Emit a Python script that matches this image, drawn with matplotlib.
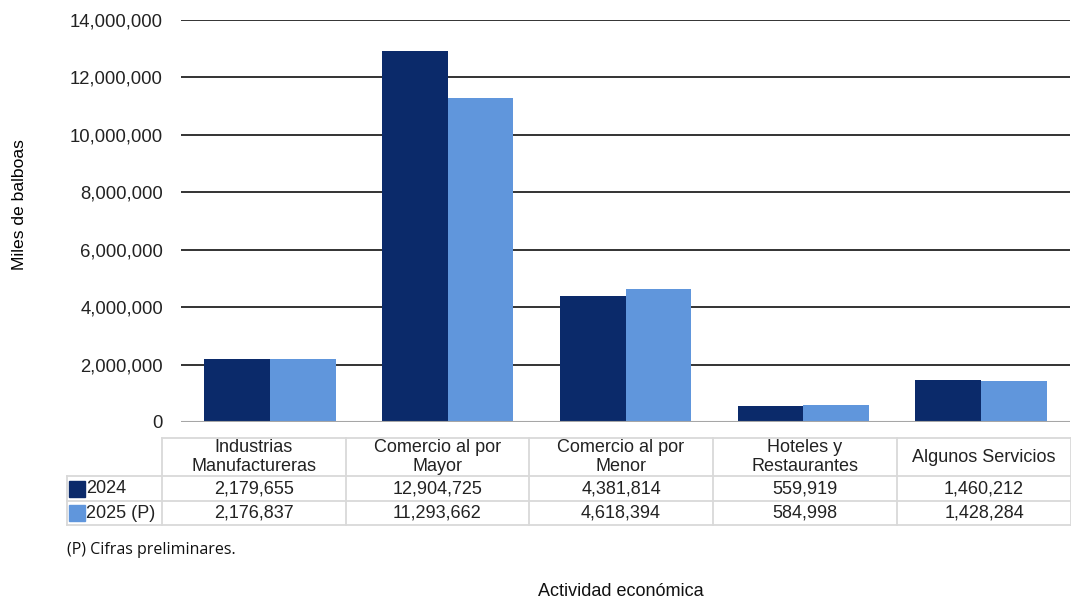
import matplotlib
matplotlib.use("Agg")
import matplotlib.pyplot as plt
from matplotlib.patches import Rectangle
from matplotlib.lines import Line2D
import numpy as np

plt.rcParams['font.family'] = ['Liberation Sans', 'DejaVu Sans']

categorias = ["Industrias\nManufactureras", "Comercio al por\nMayor", "Comercio al por\nMenor",
              "Hoteles y\nRestaurantes", "Algunos Servicios"]
series = ["2024", "2025 (P)"]
valores_2024 = [2179655, 12904725, 4381814, 559919, 1460212]
valores_2025 = [2176837, 11293662, 4618394, 584998, 1428284]
colores = ["#0b2a6a", "#6096dc"]

W, H = 1071, 600
fig = plt.figure(figsize=(W / 100, H / 100), dpi=100)

def fx(px):
    return px / W

def fy(py):
    return 1 - py / H

# area del grafico
ax = fig.add_axes([fx(181), fy(422), fx(1070) - fx(181), fy(20) - fy(422)])
x = np.arange(len(categorias))
ancho = 0.37
ax.bar(x - ancho / 2, valores_2024, ancho, color=colores[0], zorder=3)
ax.bar(x + ancho / 2, valores_2025, ancho, color=colores[1], zorder=3)
ax.set_xlim(-0.5, len(categorias) - 0.5)
ax.set_ylim(0, 14000000)
ax.set_yticks(np.arange(0, 14000001, 2000000))
ax.set_yticklabels([f"{int(v):,}" for v in ax.get_yticks()], fontsize=13.3, color="#222222")
ax.set_xticks([])
ax.grid(axis="y", color="#333333", linewidth=1.4, zorder=0)
for s in ax.spines.values():
    s.set_visible(False)
ax.tick_params(axis="y", length=0, pad=13)
ax.axhline(0, color="#a6a6a6", linewidth=1.5, zorder=4)
ax.set_ylabel("Miles de balboas", fontsize=12.6)
ax.yaxis.set_label_coords(-0.173, 0.54)

# tabla de datos
bordes_col = [67, 162, 346, 529, 713, 897, 1071]
bordes_fila = [438, 476, 501, 525]
gris = "#d9d9d9"
lw = 1.3
# lineas horizontales
fig.add_artist(Line2D([fx(162), fx(1071)], [fy(438), fy(438)], color=gris, lw=lw))
for yy in bordes_fila[1:]:
    fig.add_artist(Line2D([fx(67), fx(1071)], [fy(yy), fy(yy)], color=gris, lw=lw))
# lineas verticales
fig.add_artist(Line2D([fx(67), fx(67)], [fy(476), fy(525)], color=gris, lw=lw))
for xx in bordes_col[1:]:
    fig.add_artist(Line2D([fx(xx), fx(xx)], [fy(438), fy(525)], color=gris, lw=lw))

for i, cat in enumerate(categorias):
    cx = (bordes_col[i + 1] + bordes_col[i + 2]) / 2
    fig.text(fx(cx), fy(457), cat, ha="center", va="center", fontsize=13,
             color="#222222", linespacing=1.1)
    for j, vals in enumerate([valores_2024, valores_2025]):
        cy = (bordes_fila[j + 1] + bordes_fila[j + 2]) / 2
        fig.text(fx(cx), fy(cy), f"{vals[i]:,}", ha="center", va="center",
                 fontsize=13, color="#222222")

for j, nombre in enumerate(series):
    cy = (bordes_fila[j + 1] + bordes_fila[j + 2]) / 2
    fig.add_artist(Rectangle((fx(69), fy(cy + 8)), fx(16), fy(0) - fy(16),
                             color=colores[j], transform=fig.transFigure))
    fig.text(fx(86), fy(cy), nombre, ha="left", va="center", fontsize=13, color="#222222")

fig.text(fx(67), fy(550), "(P) Cifras preliminares.", ha="left", va="center",
         fontsize=11.5, family=["Open Sans", "DejaVu Sans"], color="#111111")
fig.text(fx(621), fy(591), "Actividad económica", ha="center", va="center",
         fontsize=13, color="#111111")

fig.savefig("out.png", dpi=100)
